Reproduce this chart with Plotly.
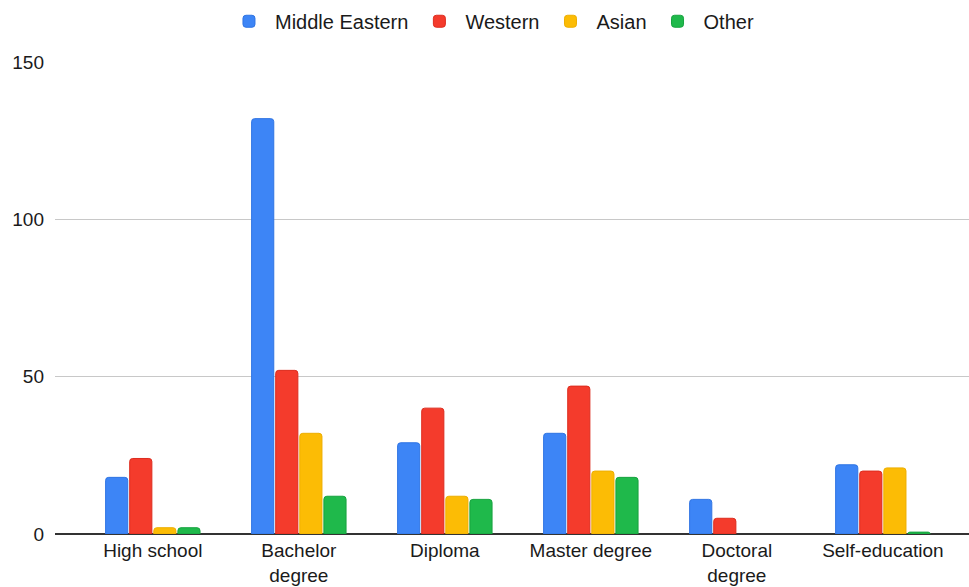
import plotly.graph_objects as go

# Education level by region group
categories = ["High school", "Bachelor<br>degree", "Diploma", "Master degree",
              "Doctoral<br>degree", "Self-education"]
middle_eastern = [18, 132, 29, 32, 11, 22]
western = [24, 52, 40, 47, 5, 20]
asian = [2, 32, 12, 20, 0, 21]
other = [2, 12, 11, 18, 0, 0.6]

series = [
    ("Middle Eastern", middle_eastern, "#3D85F6", "#2F74E3"),
    ("Western", western, "#F43B2C", "#DD2C1E"),
    ("Asian", asian, "#FCBC05", "#EDAE00"),
    ("Other", other, "#1FB94B", "#17A33F"),
]

x_idx = list(range(len(categories)))

fig = go.Figure()
for name, vals, fill, edge in series:
    # no outline on empty bars so nothing shows at zero
    edge_w = [1 if v > 0 else 0 for v in vals]
    fig.add_trace(go.Bar(
        name=name, x=x_idx, y=vals,
        marker=dict(color=fill, line=dict(color=edge, width=edge_w), cornerradius=3),
    ))

fig.update_layout(
    width=969, height=587,
    margin=dict(l=55, r=0, t=62, b=53),
    paper_bgcolor="white", plot_bgcolor="white",
    barmode="group", bargap=0.34, bargroupgap=0.08,
    font=dict(family="Liberation Sans, Arial, sans-serif", size=19, color="#1a1a1a"),
    legend=dict(orientation="h", x=0.477, xanchor="center", y=0.997, yanchor="top",
                yref="container", font=dict(size=20, color="#1a1a1a"),
                itemwidth=42, traceorder="normal"),
    showlegend=True,
)

fig.update_xaxes(
    tickmode="array", tickvals=x_idx, ticktext=categories, automargin=False,
    range=[-0.67, 5.59], showgrid=False, ticks="", ticklabelstandoff=3,
    tickfont=dict(size=19, color="#1a1a1a"),
)
fig.update_yaxes(
    range=[0, 150], tickvals=[0, 50, 100, 150], showgrid=True, gridcolor="#C8C8C8",
    gridwidth=1, zeroline=True, zerolinecolor="#333", zerolinewidth=1.5,
    automargin=False,
    ticks="", ticklabelstandoff=10, tickfont=dict(size=19, color="#1a1a1a"),
)

fig.write_html("out.html")
